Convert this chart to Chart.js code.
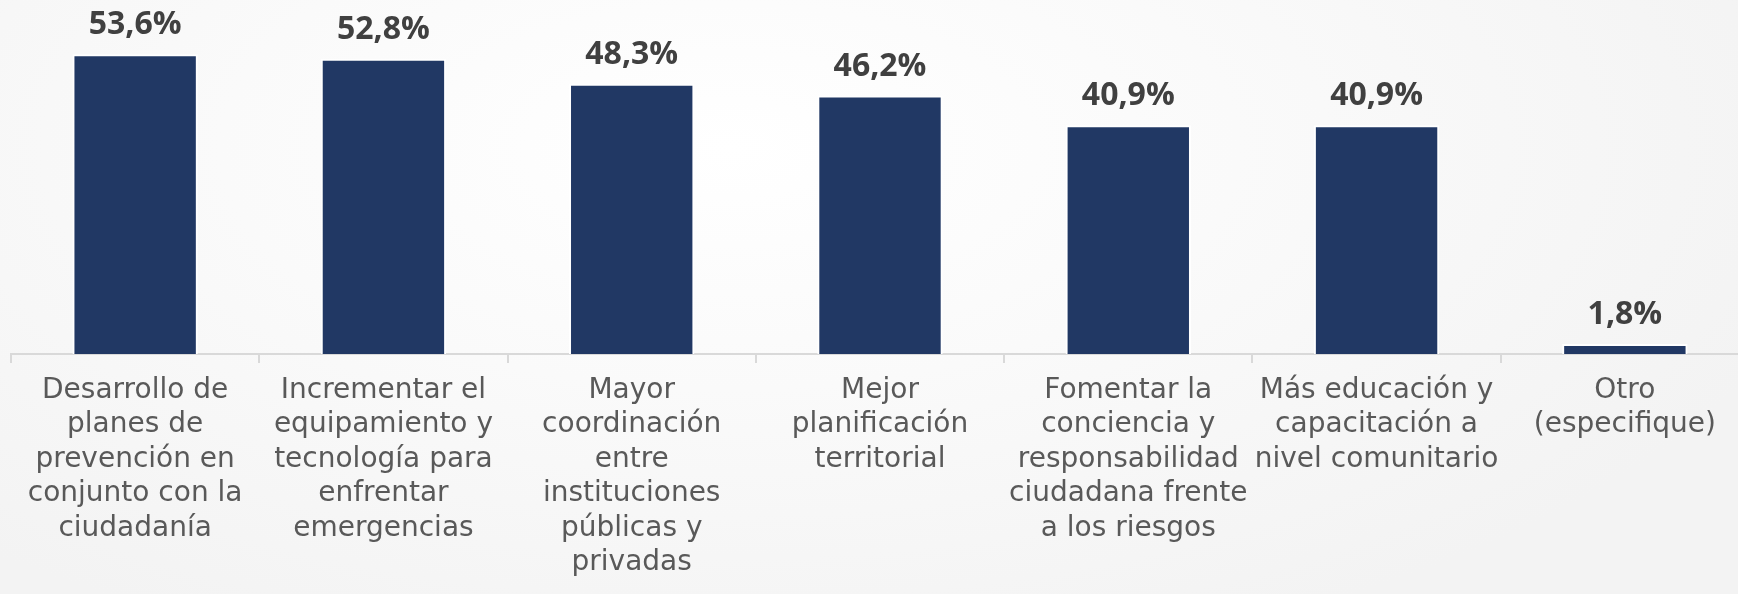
<!DOCTYPE html>
<html>
<head>
<meta charset="utf-8">
<script src="https://cdn.jsdelivr.net/npm/chart.js@4/dist/chart.umd.min.js"></script>
<style>
  html, body { margin: 0; padding: 0; width: 1738px; height: 594px; overflow: hidden; }
  body { background: radial-gradient(ellipse 65% 90% at 42% 25%, #ffffff 0%, #fafafa 45%, #f3f3f3 100%); }
  #wrap { position: absolute; left: 0; top: 0; width: 1760px; height: 594px; }
</style>
</head>
<body>
<div id="wrap"><canvas id="c" width="1760" height="594"></canvas></div>
<script>
const categories = [
  ["Desarrollo de", "planes de", "prevención en", "conjunto con la", "ciudadanía"],
  ["Incrementar el", "equipamiento y", "tecnología para", "enfrentar", "emergencias"],
  ["Mayor", "coordinación", "entre", "instituciones", "públicas y", "privadas"],
  ["Mejor", "planificación", "territorial"],
  ["Fomentar la", "conciencia y", "responsabilidad", "ciudadana frente", "a los riesgos"],
  ["Más educación y", "capacitación a", "nivel comunitario"],
  ["Otro", "(especifique)"]
];
const values = [53.6, 52.8, 48.3, 46.2, 40.9, 40.9, 1.8];
const valueLabels = ["53,6%", "52,8%", "48,3%", "46,2%", "40,9%", "40,9%", "1,8%"];

const labelFont = "DejaVu Sans";
const valuePlugin = {
  id: 'valueLabels',
  afterDatasetsDraw(chart) {
    const ctx = chart.ctx;
    const meta = chart.getDatasetMeta(0);
    ctx.save();
    ctx.font = "bold 32px 'Open Sans'";
    ctx.fillStyle = '#404040';
    ctx.textAlign = 'center';
    ctx.textBaseline = 'alphabetic';
    meta.data.forEach((el, i) => {
      ctx.fillText(valueLabels[i], el.x, el.y - 20);
    });
    ctx.restore();
  }
};

new Chart(document.getElementById('c'), {
  type: 'bar',
  data: {
    labels: categories,
    datasets: [{
      data: values,
      backgroundColor: '#213864',
      borderColor: '#ffffff',
      borderWidth: 2,
      borderSkipped: 'start',
      barPercentage: 0.505,
      categoryPercentage: 1.0
    }]
  },
  options: {
    responsive: false,
    animation: false,
    devicePixelRatio: 1,
    layout: { padding: { left: 11, right: 11, top: 5, bottom: 0 } },
    plugins: { legend: { display: false }, tooltip: { enabled: false } },
    scales: {
      x: {
        grid: { display: true, drawOnChartArea: false, drawTicks: true, tickLength: 9, color: '#d9d9d9', lineWidth: 2, offset: true },
        border: { display: true, color: '#d9d9d9', width: 2 },
        ticks: { font: { family: labelFont, size: 28, lineHeight: 1.232 }, color: '#595959', padding: 10, maxRotation: 0, minRotation: 0, autoSkip: false },
        afterFit(scale) { scale.height = 240; }
      },
      y: { display: false, min: 0, max: 62.4 }
    }
  },
  plugins: [valuePlugin]
});
</script>
</body>
</html>
